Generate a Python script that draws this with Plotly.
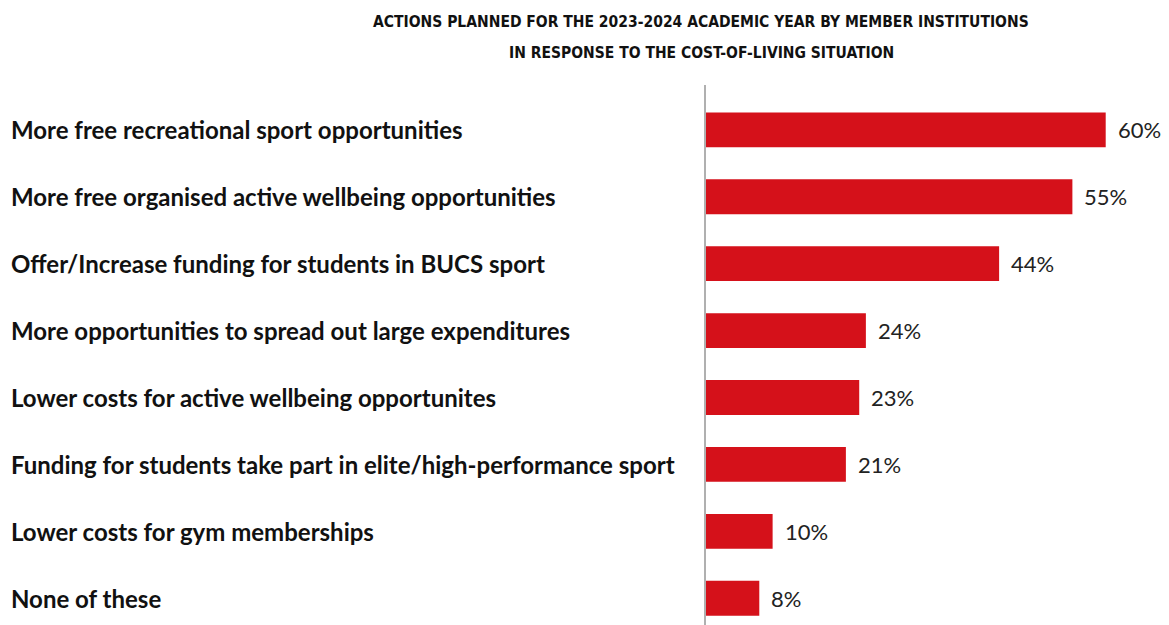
import plotly.graph_objects as go

categories = [
    "More free recreational sport opportunities",
    "More free organised active wellbeing opportunities",
    "Offer/Increase funding for students in BUCS sport",
    "More opportunities to spread out large expenditures",
    "Lower costs for active wellbeing opportunites",
    "Funding for students take part in elite/high-performance sport",
    "Lower costs for gym memberships",
    "None of these",
]
values = [60, 55, 44, 24, 23, 21, 10, 8]
title_lines = [
    "ACTIONS PLANNED FOR THE 2023-2024 ACADEMIC YEAR BY MEMBER INSTITUTIONS",
    "IN RESPONSE TO THE COST-OF-LIVING SITUATION",
]

W, H = 1169, 625
M_L, M_R, M_T, M_B = 706, 20, 85, 0
plot_w = W - M_L - M_R
plot_h = H - M_T - M_B

fig = go.Figure(
    go.Bar(
        x=values,
        y=categories,
        orientation="h",
        width=0.52,
        marker=dict(color="#d5111a", line=dict(width=0)),
        hoverinfo="skip",
    )
)

annotations = []
# category labels, left-aligned at the page edge
for cat in categories:
    annotations.append(dict(
        x=(9 - M_L) / plot_w, xref="paper", y=cat, yref="y",
        text=cat, showarrow=False, xanchor="left", yanchor="middle",
        font=dict(family="Lato", size=24, color="#111111", weight="bold"),
    ))
# value labels after each bar
for cat, v in zip(categories, values):
    annotations.append(dict(
        x=v, xref="x", y=cat, yref="y", text=f"{v}%", showarrow=False,
        xanchor="left", yanchor="middle", xshift=10,
        font=dict(family="Lato", size=22, color="#222222"),
    ))
# two-line title
for i, line in enumerate(title_lines):
    annotations.append(dict(
        x=(701 - M_L) / plot_w, xref="paper",
        y=1 + (M_T - (22 + i * 31)) / plot_h, yref="paper",
        text=f"<b>{line}</b>", showarrow=False, xanchor="center", yanchor="middle",
        font=dict(family="DejaVu Sans Condensed", size=15.5, color="#111111"),
    ))

fig.update_layout(
    width=W, height=H,
    margin=dict(l=M_L, r=M_R, t=M_T, b=M_B),
    paper_bgcolor="white", plot_bgcolor="white",
    showlegend=False,
    annotations=annotations,
    xaxis=dict(range=[0, 66.5], visible=False, fixedrange=True),
    yaxis=dict(
        categoryorder="array", categoryarray=categories,
        range=[7.4, -0.67], showticklabels=False, showgrid=False, zeroline=False,
        showline=True, linecolor="#b0b0b0", linewidth=2, ticks="",
    ),
)

fig.write_html("out.html")
